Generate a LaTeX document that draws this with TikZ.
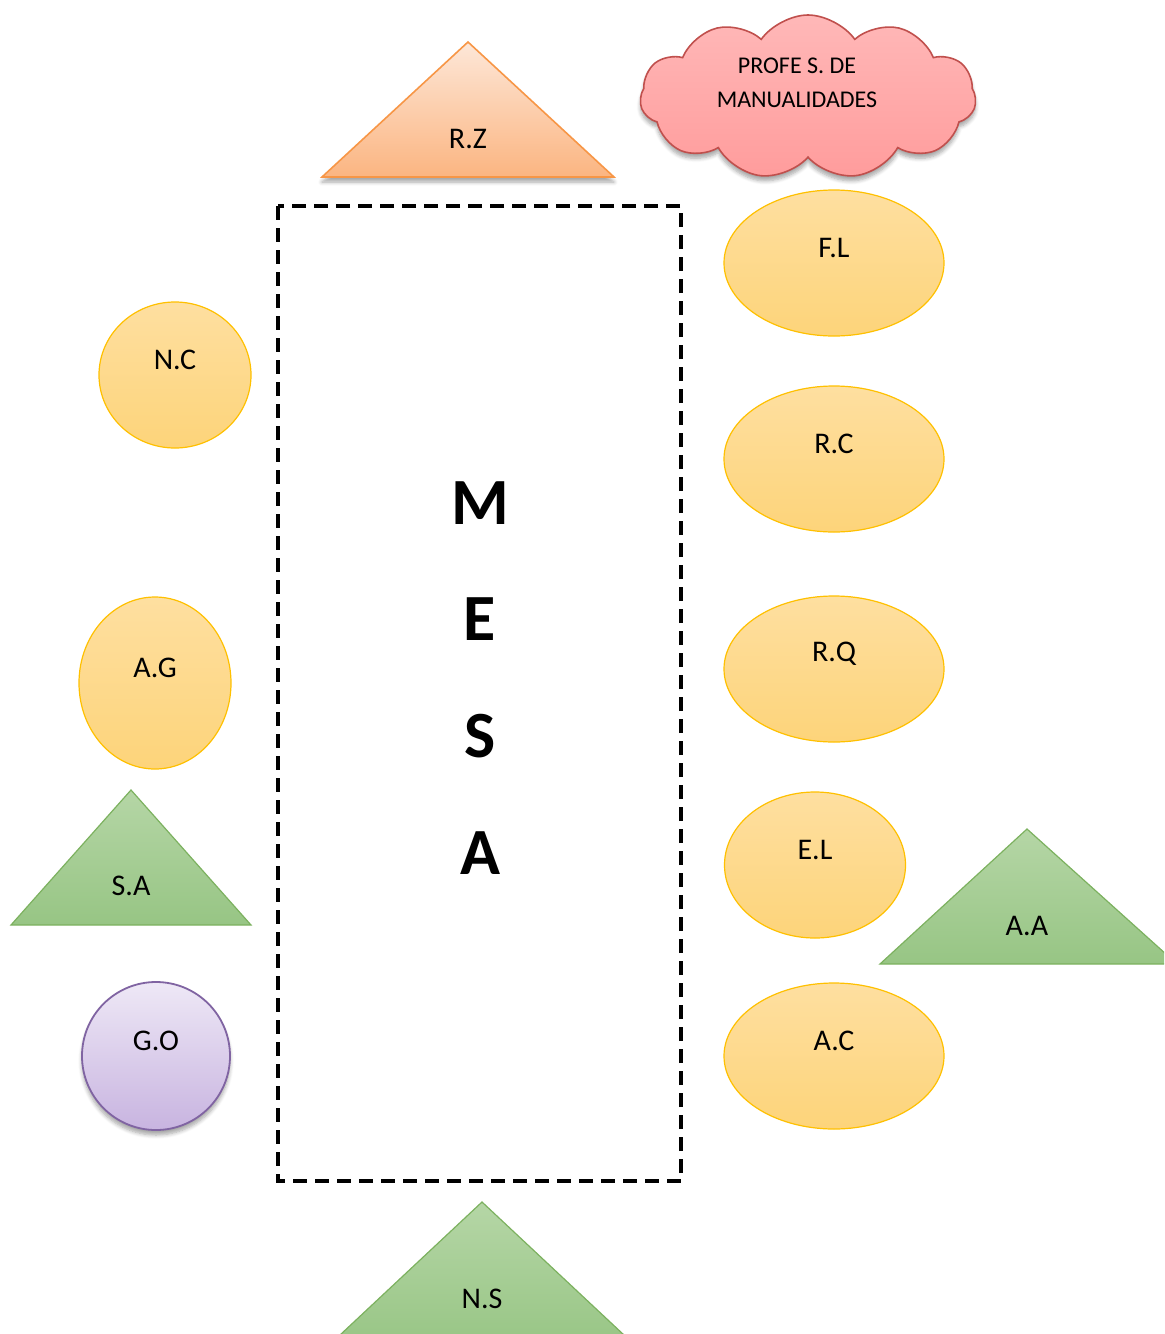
\documentclass[tikz,border=0pt]{standalone}
\usepackage{fontspec}
\setmainfont{Carlito}
\usetikzlibrary{shapes.geometric,shapes.symbols,shadows.blur}
\definecolor{orfillt}{HTML}{FEDFA0}
\definecolor{orfillb}{HTML}{FDD47A}
\definecolor{ordraw}{HTML}{FFC000}
\definecolor{grfillt}{HTML}{B5D6A6}
\definecolor{grfillb}{HTML}{97C584}
\definecolor{grdraw}{HTML}{7CB15F}
\definecolor{rzt}{HTML}{FDE7D8}
\definecolor{rzb}{HTML}{FBB581}
\definecolor{rzdraw}{HTML}{F79646}
\definecolor{pt}{HTML}{EEE8F6}
\definecolor{pb}{HTML}{C8B4E0}
\definecolor{pdraw}{HTML}{8064A2}
\definecolor{ct}{HTML}{FFB8B8}
\definecolor{cb}{HTML}{FF9C9C}
\definecolor{cdraw}{HTML}{C0504D}
\tikzset{
  oval/.style={ellipse, draw=ordraw, line width=0.6pt, top color=orfillt, bottom color=orfillb, inner sep=0pt},
  lbl/.style={font=\fontsize{15}{18}\selectfont, inner sep=0pt, text=black},
  mesa/.style={font=\fontsize{33}{36}\selectfont\bfseries, inner sep=0pt},
  gtri/.style={draw=grdraw, line width=0.6pt, top color=grfillt, bottom color=grfillb},
  sh/.style={blur shadow={shadow xshift=0pt, shadow yshift=-2.5pt, shadow blur steps=6, shadow opacity=35}},
}
\begin{document}
\begin{tikzpicture}[x=0.5pt,y=-0.5pt]
\useasboundingbox (0,0) rectangle (1164,1334);
\clip (0,0) rectangle (1164,1334);
% cloud
\node[cloud, cloud puffs=11, cloud puff arc=110, aspect=2.1, minimum width=168pt, minimum height=82pt, draw=cdraw, line width=0.8pt, top color=ct, bottom color=cb, sh] (cloud) at (808,97) {};
\node[font=\fontsize{12}{17}\selectfont, align=center, inner sep=0pt] (prof) at (797,83) {PROFE S. DE\\MANUALIDADES};
% R.Z triangle
\path[draw=rzdraw, line width=0.8pt, top color=rzt, bottom color=rzb, sh] (468,42) -- (614,177) -- (322,177) -- cycle;
\node[lbl] (rz) at (468,139) {R.Z};
% table
\draw[line width=1.7pt, dash pattern=on 7pt off 4pt] (278,206) rectangle (681,1181);
\node[mesa] (m) at (480,503) {M};
\node[mesa] (e) at (480,619) {E};
\node[mesa] (s) at (480,736) {S};
\node[mesa] (a) at (480,853) {A};
% right ellipses
\node[oval, minimum width=110pt, minimum height=73pt] (fl) at (834,263) {};
\node[lbl] (flt) at (834,248) {F.L};
\node[oval, minimum width=110pt, minimum height=73pt] (rc) at (834,459) {};
\node[lbl] (rct) at (834,444) {R.C};
\node[oval, minimum width=110pt, minimum height=73pt] (rq) at (834,669) {};
\node[lbl] (rqt) at (834,654) {R.Q};
\node[oval, minimum width=90.5pt, minimum height=73pt] (el) at (815,865) {};
\node[lbl] (elt) at (815,850) {E.L};
\node[oval, minimum width=110pt, minimum height=73pt] (ac) at (834,1056) {};
\node[lbl] (act) at (834,1041) {A.C};
% left ellipses
\node[oval, minimum width=76pt, minimum height=73pt] (nc) at (175,375) {};
\node[lbl] (nct) at (175,360) {N.C};
\node[oval, minimum width=76pt, minimum height=86pt] (ag) at (155,683) {};
\node[lbl] (agt) at (155,668) {A.G};
% G.O circle
\node[circle, draw=pdraw, line width=0.9pt, top color=pt, bottom color=pb, minimum size=74pt, inner sep=0pt, sh] (go) at (156,1056) {};
\node[lbl] (got) at (156,1041) {G.O};
% green triangles
\path[gtri] (131,790) -- (251,925) -- (11,925) -- cycle;
\node[lbl] (sa) at (131,886) {S.A};
\path[gtri] (1027,829) -- (1177,964) -- (880,964) -- cycle;
\node[lbl] (aa) at (1027,926) {A.A};
\path[gtri] (482,1202) -- (640,1350) -- (324,1350) -- cycle;
\node[lbl] (ns) at (482,1299) {N.S};
\end{tikzpicture}
\end{document}
